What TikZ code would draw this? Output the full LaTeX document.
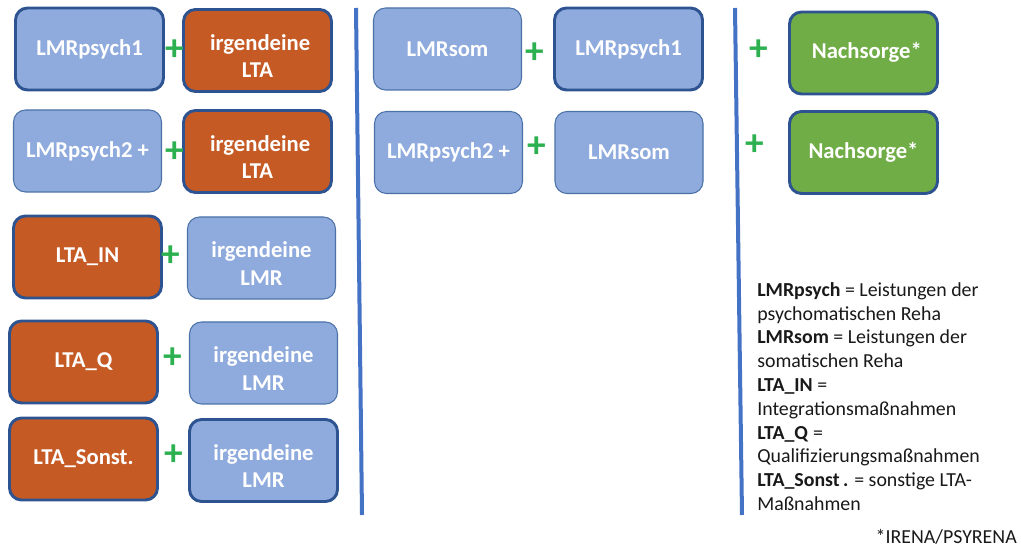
\documentclass[tikz,border=0pt]{standalone}
\usepackage{fontspec}
\setmainfont{Carlito}
\begin{document}
\definecolor{lmrblue}{HTML}{8FAADC}
\definecolor{ltaorange}{HTML}{C55A24}
\definecolor{nachgreen}{HTML}{70AD47}
\definecolor{darkedge}{HTML}{2E5391}
\definecolor{thinedge}{HTML}{4A72A8}
\definecolor{plusgreen}{HTML}{2DB04F}
\definecolor{divider}{HTML}{4472C4}
\begin{tikzpicture}[x=0.75pt,y=-0.75pt,
  box/.style={rounded corners=9pt, minimum width=111pt, minimum height=61.5pt,
    inner sep=2pt, align=center, text=white,
    font=\fontsize{17}{20.5}\selectfont\bfseries},
  twoline/.style={text height=41pt, text depth=0pt},
  heavy/.style={draw=darkedge, line width=2.2pt},
  light/.style={draw=thinedge, line width=0.8pt},
  lmr/.style={box, fill=lmrblue},
  lta/.style={box, fill=ltaorange},
  nach/.style={box, fill=nachgreen},
  plus/.style={text=plusgreen, inner sep=0pt, font=\fontsize{28}{28}\selectfont\bfseries},
  sep/.style={draw=divider, line width=3pt},
  legend/.style={inner sep=0pt, align=left, text=black!90,
    font=\fontsize{14.9}{17.85}\selectfont}]
\useasboundingbox (0,0) rectangle (1021,548);

% left column
\node[lmr, heavy] (a1) at (89.5,49) {LMRpsych1};
\node[lta, heavy, twoline] (a2) at (257.5,50.5) {\hspace*{4pt}irgendeine\\LTA};
\node[plus] (pa) at (175,50) {+};

\node[lmr, light] (b1) at (87.5,151) {LMRpsych2 +};
\node[lta, heavy, twoline] (b2) at (257.5,151.5) {\hspace*{4pt}irgendeine\\LTA};
\node[plus] (pb) at (175,152) {+};

\node[lta, heavy] (c1) at (87.5,257) {LTA\_IN};
\node[lmr, light, twoline] (c2) at (261.5,258) {irgendeine\\LMR};
\node[plus] (pc) at (171,256) {+};

\node[lta, heavy] (d1) at (83.5,362) {LTA\_Q};
\node[lmr, light, twoline] (d2) at (263.5,363) {irgendeine\\LMR};
\node[plus] (pd) at (173,358) {+};

\node[lta, heavy] (e1) at (83.5,459) {LTA\_Sonst.};
\node[lmr, heavy, twoline] (e2) at (263.5,460.5) {irgendeine\\LMR};
\node[plus] (pe) at (174,455) {+};

% middle column
\node[lmr, light] (f1) at (447.5,49) {LMRsom};
\node[lmr, heavy] (f2) at (628.5,49) {LMRpsych1};
\node[plus] (pf) at (535,53) {+};

\node[lmr, light] (g1) at (448.5,152.5) {LMRpsych2 +};
\node[lmr, light] (g2) at (629,152.5) {LMRsom};
\node[plus] (pg) at (537,147) {+};

% right column
\node[nach, heavy] (h1) at (863.5,53) {\raisebox{3.5pt}{\hspace*{5pt}Nachsorge*}};
\node[plus] (ph) at (759,50) {+};
\node[nach, heavy] (h2) at (863.5,152.5) {Nachsorge*};
\node[plus] (pi) at (755,145) {+};

% column separators
\draw[sep] (356,8) -- (362,515);
\draw[sep] (735,8) -- (742,515);

% legend
\node[legend, anchor=north west] (leg) at (757,282) {%
\textbf{LMRpsych} = Leistungen der\\
psychomatischen Reha\\
\textbf{LMRsom} = Leistungen der\\
somatischen Reha\\
\textbf{LTA\_IN} =\\
Integrationsmaßnahmen\\
\textbf{LTA\_Q} =\\
Qualifizierungsmaßnahmen\\
\textbf{LTA\_Sonst\,.} = sonstige LTA-\\
Maßnahmen};
\node[legend, anchor=east] (note) at (1017,537) {*IRENA/PSYRENA};
\end{tikzpicture}
\end{document}
